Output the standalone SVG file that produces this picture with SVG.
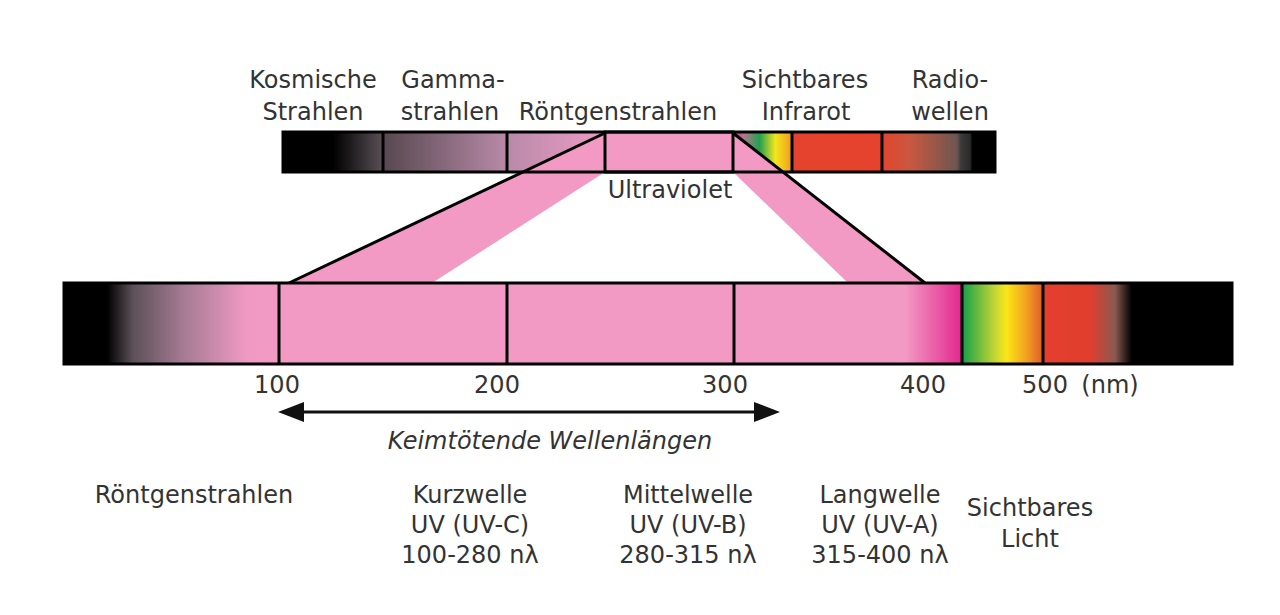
<svg xmlns="http://www.w3.org/2000/svg" width="1280" height="615" viewBox="0 0 1280 615">
<style>
.t{font-family:"DejaVu Sans","Open Sans","Liberation Sans",sans-serif;font-size:24px;fill:#333;text-anchor:middle}
.i{font-style:italic}
.ol{fill:none;stroke:#000;stroke-width:3}
.dv{stroke:#000;stroke-width:3}
.band{fill:#f29ac4}
</style>
<defs>
<linearGradient id="gTopLeft" gradientUnits="userSpaceOnUse" x1="283" y1="0" x2="383" y2="0"><stop offset="0" stop-color="#000"/><stop offset="0.5" stop-color="#000"/><stop offset="1" stop-color="#5a5056"/></linearGradient>
<linearGradient id="gGamma" gradientUnits="userSpaceOnUse" x1="383" y1="0" x2="507" y2="0"><stop offset="0" stop-color="#574850"/><stop offset="1" stop-color="#b98aa8"/></linearGradient>
<linearGradient id="gXray" gradientUnits="userSpaceOnUse" x1="507" y1="0" x2="605" y2="0"><stop offset="0" stop-color="#b88aa8"/><stop offset="1" stop-color="#ee9cc6"/></linearGradient>
<linearGradient id="gVisTop" gradientUnits="userSpaceOnUse" x1="733" y1="0" x2="792" y2="0"><stop offset="0" stop-color="#d8288c"/><stop offset="0.18" stop-color="#b07890"/><stop offset="0.45" stop-color="#22a050"/><stop offset="0.72" stop-color="#f5e61c"/><stop offset="1" stop-color="#f09a20"/></linearGradient>
<linearGradient id="gRadio" gradientUnits="userSpaceOnUse" x1="882" y1="0" x2="995" y2="0"><stop offset="0" stop-color="#e2452e"/><stop offset="0.25" stop-color="#c85840"/><stop offset="0.66" stop-color="#6e5650"/><stop offset="0.7" stop-color="#3a3a3a"/><stop offset="0.78" stop-color="#2a2a2a"/><stop offset="0.8" stop-color="#000"/><stop offset="1" stop-color="#000"/></linearGradient>
<linearGradient id="gBotLeft" gradientUnits="userSpaceOnUse" x1="64" y1="0" x2="279" y2="0"><stop offset="0" stop-color="#000"/><stop offset="0.2" stop-color="#000"/><stop offset="0.32" stop-color="#5c5058"/><stop offset="0.55" stop-color="#a47a92"/><stop offset="0.85" stop-color="#f09ac3"/><stop offset="1" stop-color="#f29ac4"/></linearGradient>
<linearGradient id="gBotUVA" gradientUnits="userSpaceOnUse" x1="734" y1="0" x2="962" y2="0"><stop offset="0" stop-color="#f29ac4"/><stop offset="0.75" stop-color="#f29ac4"/><stop offset="1" stop-color="#e2288e"/></linearGradient>
<linearGradient id="gBotVis" gradientUnits="userSpaceOnUse" x1="962" y1="0" x2="1043" y2="0"><stop offset="0" stop-color="#13a04a"/><stop offset="0.4" stop-color="#c2d535"/><stop offset="0.55" stop-color="#fbe618"/><stop offset="0.8" stop-color="#f0a020"/><stop offset="1" stop-color="#e05a30"/></linearGradient>
<linearGradient id="gBotRed" gradientUnits="userSpaceOnUse" x1="1043" y1="0" x2="1232" y2="0"><stop offset="0" stop-color="#e53e2e"/><stop offset="0.25" stop-color="#e03e2e"/><stop offset="0.38" stop-color="#8a5a50"/><stop offset="0.47" stop-color="#000"/><stop offset="1" stop-color="#000"/></linearGradient>
<marker id="ah" markerUnits="userSpaceOnUse" markerWidth="26" markerHeight="20" refX="16" refY="10" orient="auto-start-reverse"><path d="M0,0 L26,10 L0,20 Z" fill="#111"/></marker>
</defs>
<rect width="1280" height="615" fill="#fff"/>

<g id="top-spectrum">
<rect x="283" y="132" width="100" height="40" fill="url(#gTopLeft)"/>
<rect x="383" y="132" width="124" height="40" fill="url(#gGamma)"/>
<rect x="507" y="132" width="98" height="40" fill="url(#gXray)"/>
<rect x="605" y="132" width="128" height="40" fill="#f29ac4"/>
<rect x="733" y="132" width="59" height="40" fill="url(#gVisTop)"/>
<rect x="792" y="132" width="90" height="40" fill="#e5432d"/>
<rect x="882" y="132" width="113" height="40" fill="url(#gRadio)"/>
</g>

<g id="connectors">
<polygon class="band" points="289,283 605,133 605,172 432,283"/>
<polygon class="band" points="733,133 925,283 848,283 733,172"/>
<line class="dv" x1="289" y1="283" x2="605" y2="133"/>
<line class="dv" x1="733" y1="133" x2="925" y2="283"/>
<line x1="288" y1="412" x2="770" y2="412" stroke="#111" stroke-width="3" marker-start="url(#ah)" marker-end="url(#ah)"/>
</g>

<g id="top-outline">
<rect class="ol" x="283" y="132" width="712" height="40"/>
<line class="dv" x1="383" y1="132" x2="383" y2="172"/>
<line class="dv" x1="507" y1="132" x2="507" y2="172"/>
<rect class="ol" x="605" y="132" width="128" height="40"/>
<line class="dv" x1="792" y1="132" x2="792" y2="172"/>
<line class="dv" x1="882" y1="132" x2="882" y2="172"/>
</g>

<g id="bottom-spectrum">
<rect x="64" y="283" width="215" height="81" fill="url(#gBotLeft)"/>
<rect x="279" y="283" width="455" height="81" fill="#f29ac4"/>
<rect x="734" y="283" width="228" height="81" fill="url(#gBotUVA)"/>
<rect x="962" y="283" width="81" height="81" fill="url(#gBotVis)"/>
<rect x="1043" y="283" width="189" height="81" fill="url(#gBotRed)"/>
<rect class="ol" x="64" y="283" width="1168" height="81"/>
<line class="dv" x1="279" y1="283" x2="279" y2="364"/>
<line class="dv" x1="507" y1="283" x2="507" y2="364"/>
<line class="dv" x1="734" y1="283" x2="734" y2="364"/>
<line class="dv" x1="962" y1="283" x2="962" y2="364"/>
<line class="dv" x1="1043" y1="283" x2="1043" y2="364"/>
</g>

<g id="label-kosmische"><text class="t" x="313" y="88">Kosmische</text><text class="t" x="313" y="120">Strahlen</text></g>
<g id="label-gamma"><text class="t" x="453" y="88">Gamma-</text><text class="t" x="450" y="120">strahlen</text></g>
<g id="label-roentgen-top"><text class="t" x="618" y="120">Röntgenstrahlen</text></g>
<g id="label-sichtbares-top"><text class="t" x="805" y="88">Sichtbares</text><text class="t" x="806" y="120">Infrarot</text></g>
<g id="label-radio"><text class="t" x="950" y="88">Radio-</text><text class="t" x="950" y="120">wellen</text></g>
<g id="label-ultraviolet"><text class="t" x="670" y="198">Ultraviolet</text></g>

<g id="axis">
<text class="t" x="277" y="393">100</text>
<text class="t" x="497" y="393">200</text>
<text class="t" x="725" y="393">300</text>
<text class="t" x="923" y="393">400</text>
<text class="t" x="1045" y="393">500</text>
<text class="t" x="1110" y="393">(nm)</text>
</g>

<g id="label-keimtoetend"><text class="t i" x="550" y="449">Keimtötende Wellenlängen</text></g>

<g id="label-roentgen-bottom"><text class="t" x="194" y="503">Röntgenstrahlen</text></g>
<g id="label-uvc"><text class="t" x="470" y="503">Kurzwelle</text><text class="t" x="470" y="533">UV (UV-C)</text><text class="t" x="470" y="563">100-280 nλ</text></g>
<g id="label-uvb"><text class="t" x="688" y="503">Mittelwelle</text><text class="t" x="688" y="533">UV (UV-B)</text><text class="t" x="688" y="563">280-315 nλ</text></g>
<g id="label-uva"><text class="t" x="880" y="503">Langwelle</text><text class="t" x="880" y="533">UV (UV-A)</text><text class="t" x="880" y="563">315-400 nλ</text></g>
<g id="label-licht"><text class="t" x="1030" y="516">Sichtbares</text><text class="t" x="1030" y="547">Licht</text></g>
</svg>
